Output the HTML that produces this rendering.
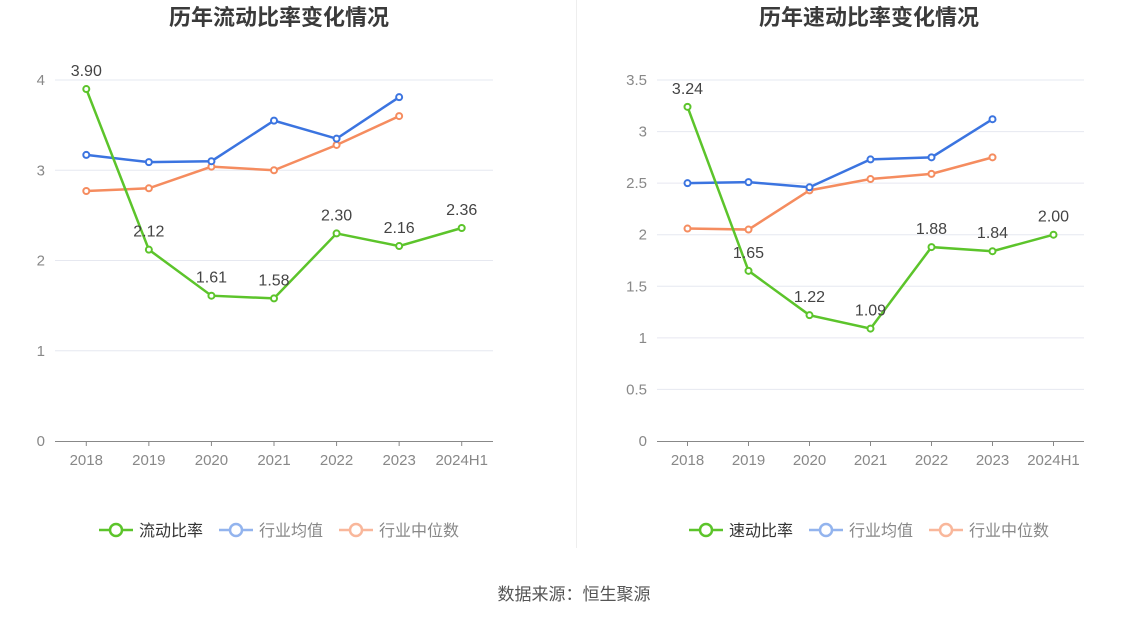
<!DOCTYPE html>
<html><head><meta charset="utf-8"><style>
body{margin:0;background:#fff;font-family:"Liberation Sans","Noto Sans CJK SC",sans-serif;}
svg text{font-family:"Liberation Sans","Noto Sans CJK SC",sans-serif;}
</style></head><body>
<svg id="s" width="1148" height="619" xmlns="http://www.w3.org/2000/svg">
<line x1="576.5" y1="0" x2="576.5" y2="548" stroke="#eee"/>
<text x="574" y="600" text-anchor="middle" font-size="17" fill="#555">数据来源：恒生聚源</text>
</svg>
<script>
const categories=["2018","2019","2020","2021","2022","2023","2024H1"];
const leftMain=[3.90,2.12,1.61,1.58,2.30,2.16,2.36];
const leftAvg=[3.17,3.09,3.10,3.55,3.35,3.81];
const leftMed=[2.77,2.80,3.04,3.00,3.28,3.60];
const leftTicks=[0,1,2,3,4];
const rightMain=[3.24,1.65,1.22,1.09,1.88,1.84,2.00];
const rightAvg=[2.50,2.51,2.46,2.73,2.75,3.12];
const rightMed=[2.06,2.05,2.43,2.54,2.59,2.75];
const rightTicks=[0,0.5,1,1.5,2,2.5,3,3.5];
const NS="http://www.w3.org/2000/svg";
const svg=document.getElementById('s');
function mk(tag,attrs,parent){const e=document.createElementNS(NS,tag);for(const k in attrs)e.setAttribute(k,attrs[k]);(parent||svg).appendChild(e);return e;}
function chart(o){
  const g=mk('g',{});
  
  
  const maxV=o.ticks[o.ticks.length-1];
  const y=v=>441-(v/maxV)*(441-80);
  const step=(o.x1-o.x0)/categories.length;
  const x=i=>o.x0+step*(i+0.5);
  const t=mk('text',{x:o.titleX,y:25,'text-anchor':'middle','font-size':22,'font-weight':'bold',fill:'#3a3a3a'},g);
  t.textContent=o.title;
  
  
  o.ticks.forEach(v=>{
    if(v>0){const l=mk('line',{x1:o.x0,x2:o.x1,y1:y(v),y2:y(v),stroke:'#e6e8f0'},g);
      
      }
    const tl=mk('text',{x:o.x0-10,y:y(v)+5,'text-anchor':'end','font-size':15,fill:'#888'},g);
    tl.textContent=String(v);
    
    
  });
  const ax=mk('line',{x1:o.x0,x2:o.x1,y1:441.5,y2:441.5,stroke:'#888'},g);
  
  
  categories.forEach((c,i)=>{
    mk('line',{x1:x(i),x2:x(i),y1:441,y2:446,stroke:'#888'},g);
    const tl=mk('text',{x:x(i),y:465,'text-anchor':'middle','font-size':15,fill:'#888'},g);
    tl.textContent=c;
    
    
  });
  const series=[[o.med,'#f58c5f','median'],[o.avg,'#3b74e0','average'],[o.main,'#5cc42b','main']];
  series.forEach(([d,col,nm])=>{
    const p=mk('polyline',{points:d.map((v,i)=>x(i)+','+y(v)).join(' '),fill:'none',stroke:col,'stroke-width':2.5},g);
    
    
    d.forEach((v,i)=>{
      const c=mk('circle',{cx:x(i),cy:y(v),r:3,fill:'#fff',stroke:col,'stroke-width':2},g);
      
      
      if(nm==='main'){
        const lb=mk('text',{x:x(i),y:y(v)-13,'text-anchor':'middle','font-size':16,fill:'#444'},g);
        lb.textContent=v.toFixed(2);
        
        
      }
    });
  });
  const names=[[o.mainName,'#5cc42b','#333'],['行业均值','#93b4ee','#888'],['行业中位数','#f9b79b','#888']];
  let lx=o.legendX;
  names.forEach(([n,col,tc])=>{
    const lg=mk('g',{},g);
    
    
    mk('line',{x1:lx,x2:lx+34,y1:530,y2:530,stroke:col,'stroke-width':2.5},lg);
    mk('circle',{cx:lx+17,cy:530,r:6,fill:'#fff',stroke:col,'stroke-width':2.5},lg);
    const tx=mk('text',{x:lx+40,y:536,'font-size':16,fill:tc},lg);
    tx.textContent=n;
    lx+=40+n.length*16+16;
  });
}
chart({id:'current-ratio',title:'历年流动比率变化情况',titleX:279,x0:55,x1:493,ticks:leftTicks,main:leftMain,avg:leftAvg,med:leftMed,mainName:'流动比率',legendX:99});
chart({id:'quick-ratio',title:'历年速动比率变化情况',titleX:869,x0:657,x1:1084,ticks:rightTicks,main:rightMain,avg:rightAvg,med:rightMed,mainName:'速动比率',legendX:689});
</script>
</body></html>
